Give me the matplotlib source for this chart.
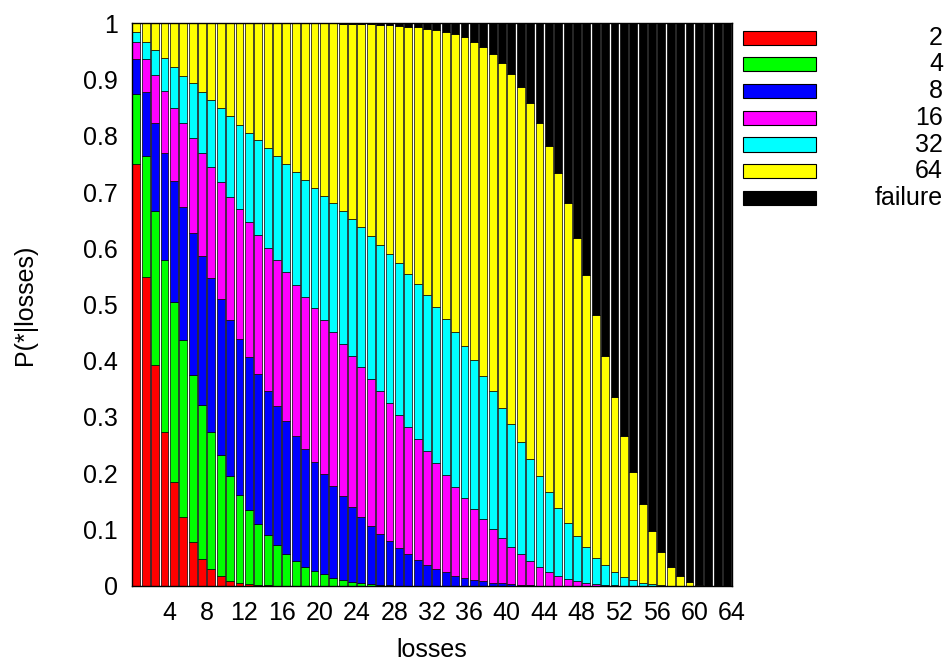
import numpy as np
import matplotlib
matplotlib.use("Agg")
import matplotlib.pyplot as plt
from matplotlib.patches import Rectangle

plt.rcParams['font.family'] = ['Liberation Sans', 'DejaVu Sans']

losses = list(range(1, 65))
series_labels = ["2", "4", "8", "16", "32", "64", "failure"]
series_colors = ["#ff0000", "#00ff00", "#0000ff", "#ff00ff", "#00ffff", "#ffff00", "#000000"]

p2 = [0.749, 0.549, 0.392, 0.273, 0.185, 0.122, 0.077, 0.047, 0.029, 0.017,
      0.009, 0.005, 0.003, 0.001, 0.0005] + [0.0] * 49

p4 = [0.125, 0.215, 0.274, 0.307, 0.319, 0.314, 0.298, 0.274, 0.244, 0.215,
      0.186, 0.157, 0.132, 0.109, 0.0895, 0.072, 0.057, 0.044, 0.034, 0.026,
      0.020, 0.014, 0.010, 0.007, 0.004, 0.003, 0.002, 0.001] + [0.0] * 36

p8 = [0.063, 0.114, 0.156, 0.189, 0.215, 0.237, 0.253, 0.265, 0.274, 0.277,
      0.277, 0.277, 0.272, 0.266, 0.257, 0.248, 0.236, 0.223, 0.209, 0.194,
      0.179, 0.164, 0.149, 0.133, 0.119, 0.104, 0.090, 0.078, 0.067, 0.056,
      0.046, 0.037, 0.030, 0.024, 0.018, 0.014, 0.011, 0.008, 0.005, 0.004,
      0.003, 0.002, 0.001] + [0.0] * 21

p16 = [0.030, 0.059, 0.086, 0.110, 0.131, 0.150, 0.168, 0.184, 0.197, 0.209,
       0.220, 0.230, 0.240, 0.248, 0.253, 0.259, 0.264, 0.268, 0.271, 0.273,
       0.273, 0.273, 0.271, 0.269, 0.265, 0.261, 0.255, 0.246, 0.237, 0.226,
       0.214, 0.202, 0.188, 0.172, 0.157, 0.142, 0.125, 0.110, 0.095, 0.080,
       0.066, 0.054, 0.043, 0.034, 0.025, 0.018, 0.012, 0.008, 0.005, 0.003,
       0.002, 0.001] + [0.0] * 12

p32 = [0.017, 0.030, 0.044, 0.059, 0.073, 0.084, 0.097, 0.108, 0.120, 0.131,
       0.143, 0.151, 0.158, 0.168, 0.178, 0.185, 0.193, 0.201, 0.207, 0.215,
       0.221, 0.229, 0.236, 0.243, 0.249, 0.254, 0.259, 0.265, 0.269, 0.273,
       0.276, 0.278, 0.278, 0.278, 0.276, 0.270, 0.265, 0.255, 0.247, 0.232,
       0.218, 0.200, 0.182, 0.161, 0.142, 0.121, 0.100, 0.081, 0.063, 0.047,
       0.034, 0.023, 0.015, 0.010, 0.005, 0.003, 0.001] + [0.0] * 7

p64 = [0.016, 0.033, 0.048, 0.062, 0.077, 0.093, 0.107, 0.122, 0.136, 0.151,
       0.165, 0.180, 0.195, 0.208, 0.222, 0.236, 0.250, 0.264, 0.279, 0.292,
       0.307, 0.320, 0.333, 0.347, 0.361, 0.376, 0.391, 0.407, 0.423, 0.439,
       0.457, 0.473, 0.492, 0.511, 0.530, 0.549, 0.566, 0.585, 0.598, 0.614,
       0.623, 0.630, 0.632, 0.627, 0.615, 0.595, 0.568, 0.530, 0.484, 0.432,
       0.372, 0.312, 0.252, 0.192, 0.140, 0.094, 0.059, 0.034, 0.018, 0.007,
       0.001, 0.0, 0.0, 0.0]

p_fail = [0.0] * 22 + [
    0.001, 0.001, 0.002, 0.002, 0.003, 0.003, 0.004, 0.006, 0.007, 0.010,
    0.012, 0.015, 0.019, 0.025, 0.033, 0.042, 0.055, 0.070, 0.090, 0.114,
    0.142, 0.178, 0.218, 0.266, 0.320, 0.381, 0.448, 0.518, 0.592, 0.664,
    0.733, 0.798, 0.855, 0.903, 0.940, 0.966, 0.982, 0.993, 0.999, 1.0,
    1.0, 1.0]

y_ticks = [0, 0.1, 0.2, 0.3, 0.4, 0.5, 0.6, 0.7, 0.8, 0.9, 1]
y_tick_labels = ["0", "0.1", "0.2", "0.3", "0.4", "0.5", "0.6", "0.7", "0.8", "0.9", "1"]
x_ticks = list(range(4, 65, 4))

series = [p2, p4, p8, p16, p32, p64, p_fail]

W, H = 946, 664
FS = 18
fig = plt.figure(figsize=(W / 100, H / 100), dpi=100)
ax = fig.add_axes([131.7 / W, 1 - 585.7 / H, 600 / W, 562.4 / H])

x = np.array(losses) - 0.5
bottom = np.zeros(len(losses))
for vals, col in zip(series, series_colors):
    v = np.array(vals)
    ax.bar(x, v, width=0.84, bottom=bottom, color=col, edgecolor="black",
           linewidth=0.5, zorder=2)
    bottom = bottom + v

ax.set_xlim(0, 64)
ax.set_ylim(0, 1)
ax.set_yticks(y_ticks)
ax.set_yticklabels(y_tick_labels)
ax.set_xticks(x_ticks)
ax.set_xticklabels([str(t) for t in x_ticks])
ax.tick_params(axis="both", length=0, labelsize=FS)
ax.tick_params(axis="y", pad=10)
ax.tick_params(axis="x", pad=11)
for s in ax.spines.values():
    s.set_linewidth(1.0)
    s.set_color("black")
    s.set_zorder(3)

fig.text(431.7 / W, 1 - 650 / H, "losses", ha="center", va="center", fontsize=FS)
fig.text(25 / W, 1 - 304.5 / H, "P(*|losses)", ha="center", va="center",
         rotation=90, fontsize=FS)

# legend (outside, right)
sw_x, sw_w, sw_h = 742.7, 73.3, 14.0
y0, pitch = 37.7, 26.7
for i, (lab, col) in enumerate(zip(series_labels, series_colors)):
    cy = y0 + i * pitch
    rect = Rectangle((sw_x / W, 1 - (cy + sw_h / 2) / H), sw_w / W, sw_h / H,
                     transform=fig.transFigure, facecolor=col,
                     edgecolor="black", linewidth=0.8)
    fig.patches.append(rect)
    fig.text(943 / W, 1 - cy / H, lab, ha="right", va="center", fontsize=FS)

fig.savefig("out.png", dpi=100)
